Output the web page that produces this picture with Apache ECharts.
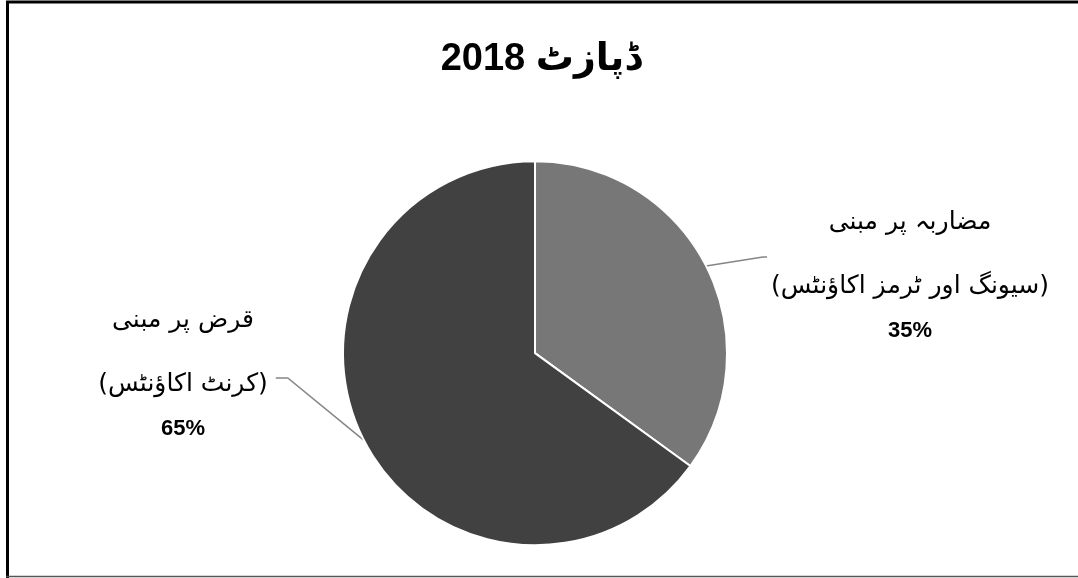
<!DOCTYPE html>
<html>
<head>
<meta charset="utf-8">
<script src="https://cdn.jsdelivr.net/npm/echarts@6/dist/echarts.min.js"></script>
<style>
html,body{margin:0;padding:0;background:#fff;}
#chart{width:1078px;height:578px;}
</style>
</head>
<body>
<div id="chart"></div>
<script>
const titleText = '2018 ڈپازٹ';
const labelsMain = ['مضاربہ پر مبنی', 'قرض پر مبنی'];
const labelsSub = ['(سیونگ اور ٹرمز اکاؤنٹس)', '(کرنٹ اکاؤنٹس)'];
const values = [35, 65];
const colors = ['#777777', '#414141'];

const labelPos = [[910, 267], [183, 365]];

const chart = echarts.init(document.getElementById('chart'), null, {renderer: 'canvas'});

const option = {
  animation: false,
  backgroundColor: '#ffffff',
  title: {
    text: titleText,
    left: 536,
    textAlign: 'center',
    top: 36,
    textStyle: {
      fontFamily: "'Liberation Sans', 'DejaVu Sans', sans-serif",
      fontWeight: 'bold',
      fontSize: 38,
      color: '#000'
    }
  },
  graphic: [
    {type: 'line', shape: {x1: 6, y1: 2, x2: 1078, y2: 2}, style: {stroke: '#000', lineWidth: 3}, silent: true, z: 100},
    {type: 'line', shape: {x1: 7.5, y1: 1, x2: 7.5, y2: 578}, style: {stroke: '#000', lineWidth: 3}, silent: true, z: 100},
    {type: 'line', shape: {x1: 6, y1: 576.5, x2: 1078, y2: 576.5}, style: {stroke: '#555', lineWidth: 1.5}, silent: true, z: 100}
  ],
  series: [{
    type: 'pie',
    center: ['49.63%', '61.1%'],
    radius: 192,
    startAngle: 90,
    clockwise: true,
    data: values.map((v, i) => ({
      value: v,
      name: labelsMain[i],
      itemStyle: {color: colors[i]}
    })),
    itemStyle: {borderColor: '#ffffff', borderWidth: 2},
    label: {
      show: true,
      position: 'outside',
      formatter: function (p) {
        return '{a|' + labelsMain[p.dataIndex] + '}\n{b|' + labelsSub[p.dataIndex] + '}\n{c|' + values[p.dataIndex] + '%}';
      },
      rich: {
        a: {fontFamily: "'DejaVu Sans', sans-serif", fontSize: 25, lineHeight: 66, color: '#000', align: 'center'},
        b: {fontFamily: "'DejaVu Sans', sans-serif", fontSize: 25, lineHeight: 62, color: '#000', align: 'center'},
        c: {fontFamily: "'Liberation Sans', sans-serif", fontWeight: 'bold', fontSize: 22, lineHeight: 28, color: '#000', align: 'center'}
      }
    },
    labelLine: {
      show: true,
      length: 10,
      length2: 20,
      lineStyle: {color: '#858585', width: 1.5}
    },
    labelLayout: function (params) {
      const i = params.dataIndex;
      const w = params.labelRect.width;
      const pos = labelPos[i];
      const edge = params.labelLinePoints ? params.labelLinePoints[0] : [0, 0];
      let pts;
      if (i === 0) {
        const end = [pos[0] - w / 2 - 4, pos[1] - 10];
        pts = [edge, [end[0] - 4, end[1]], end];
      } else {
        const end = [pos[0] + w / 2 + 8, pos[1] + 13];
        pts = [edge, [end[0] + 12, end[1]], end];
      }
      return {
        x: pos[0],
        y: pos[1],
        align: 'center',
        verticalAlign: 'middle',
        labelLinePoints: pts
      };
    }
  }]
};
chart.setOption(option);
</script>
</body>
</html>
